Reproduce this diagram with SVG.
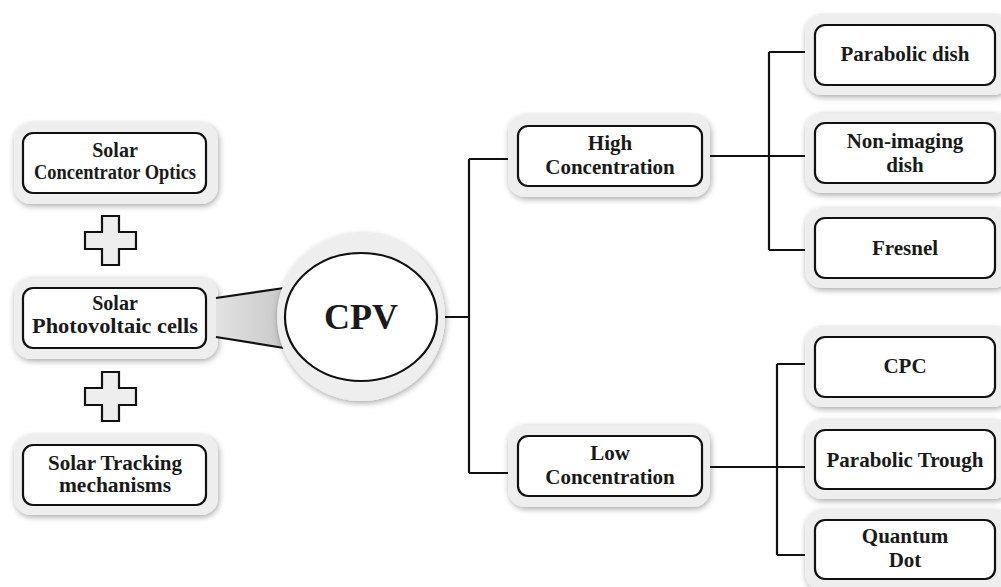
<svg xmlns="http://www.w3.org/2000/svg" width="1001" height="587" viewBox="0 0 1001 587">
<defs>
<filter id="sh" x="-20%" y="-20%" width="140%" height="140%">
<feGaussianBlur in="SourceAlpha" stdDeviation="3"/>
<feOffset dx="1" dy="2" result="b"/>
<feComponentTransfer><feFuncA type="linear" slope="0.35"/></feComponentTransfer>
<feMerge><feMergeNode/><feMergeNode in="SourceGraphic"/></feMerge>
</filter>
<linearGradient id="fg" x1="0" y1="0" x2="1" y2="0">
<stop offset="0" stop-color="#e2e2e2"/><stop offset="1" stop-color="#c9c9c9"/>
</linearGradient>
</defs>
<style>
.outer{fill:#eeeeee;filter:url(#sh)}
.inner{fill:#ffffff;stroke:#111;stroke-width:2.2}
.t{font-family:"Liberation Serif","Times New Roman",serif;font-weight:bold;font-size:21px;fill:#1a1a1a;text-anchor:middle}
.tl{font-size:20px}
.c{fill:none;stroke:#111;stroke-width:2.2}
.plus{fill:#eeeeee;stroke:#111;stroke-width:2.2}
</style>
<rect width="1001" height="587" fill="#ffffff"/>

<g id="connectors">
<path class="c" d="M445,317 H469 M469,159 V473 M469,159 H510 M469,473 H510"/>
<path class="c" d="M708,156 H807 M769,52 V250 M769,52 H807 M769,250 H807"/>
<path class="c" d="M708,467 H807 M777,364 V555 M777,364 H807 M777,555 H807"/>
</g>

<g id="node-optics">
<rect class="outer" x="14" y="123" width="204" height="81" rx="17"/>
<rect class="inner" x="23" y="133" width="183" height="60" rx="10"/>
<text class="t tl" x="115" y="157">Solar</text>
<text class="t tl" x="115" y="179" textLength="162" lengthAdjust="spacingAndGlyphs">Concentrator Optics</text>
</g>
<g id="plus1"><polygon class="plus" points="102,216 119,216 119,232 136,232 136,249 119,249 119,265 102,265 102,249 85,249 85,232 102,232"/></g>
<g id="node-pv">
<rect class="outer" x="14" y="278" width="204" height="81" rx="17"/>
<rect class="inner" x="23" y="288" width="183" height="60" rx="10"/>
<text class="t tl" x="115" y="310">Solar</text>
<text class="t tl" x="115" y="333" textLength="166" lengthAdjust="spacingAndGlyphs">Photovoltaic cells</text>
</g>
<g id="plus2"><polygon class="plus" points="102,372 119,372 119,388 136,388 136,405 119,405 119,421 102,421 102,405 85,405 85,388 102,388"/></g>
<g id="node-tracking">
<rect class="outer" x="14" y="435" width="204" height="80" rx="17"/>
<rect class="inner" x="23" y="445" width="183" height="60" rx="10"/>
<text class="t tl" x="115" y="470" textLength="134" lengthAdjust="spacingAndGlyphs">Solar Tracking</text>
<text class="t tl" x="115" y="492" textLength="112" lengthAdjust="spacingAndGlyphs">mechanisms</text>
</g>

<g id="funnel">
<polygon points="216,298 284,288 284,348 216,337" fill="url(#fg)"/>
<path class="c" d="M216,298 L284,288 M216,337 L284,348"/>
</g>

<g id="node-cpv">
<circle class="outer" cx="361" cy="317" r="84"/>
<ellipse class="inner" cx="361" cy="317" rx="76" ry="64"/>
<text class="t" x="361" y="329" style="font-size:36px">CPV</text>
</g>

<g id="node-high">
<rect class="outer" x="508" y="115" width="202" height="82" rx="17"/>
<rect class="inner" x="518" y="126" width="184" height="60" rx="10"/>
<text class="t" x="610" y="150">High</text>
<text class="t" x="610" y="174">Concentration</text>
</g>
<g id="node-low">
<rect class="outer" x="508" y="425" width="202" height="82" rx="17"/>
<rect class="inner" x="518" y="436" width="184" height="60" rx="10"/>
<text class="t" x="610" y="460">Low</text>
<text class="t" x="610" y="484">Concentration</text>
</g>

<g id="node-parabolic-dish">
<rect class="outer" x="805" y="15" width="205" height="80" rx="17"/>
<rect class="inner" x="815" y="25" width="180" height="60" rx="10"/>
<text class="t" x="905" y="61">Parabolic dish</text>
</g>
<g id="node-non-imaging">
<rect class="outer" x="805" y="113" width="205" height="80" rx="17"/>
<rect class="inner" x="815" y="123" width="180" height="60" rx="10"/>
<text class="t" x="905" y="148">Non-imaging</text>
<text class="t" x="905" y="172">dish</text>
</g>
<g id="node-fresnel">
<rect class="outer" x="805" y="208" width="205" height="80" rx="17"/>
<rect class="inner" x="815" y="218" width="180" height="60" rx="10"/>
<text class="t" x="905" y="255">Fresnel</text>
</g>
<g id="node-cpc">
<rect class="outer" x="805" y="327" width="205" height="80" rx="17"/>
<rect class="inner" x="815" y="337" width="180" height="60" rx="10"/>
<text class="t" x="905" y="373">CPC</text>
</g>
<g id="node-trough">
<rect class="outer" x="805" y="420" width="205" height="79" rx="17"/>
<rect class="inner" x="815" y="430" width="180" height="59" rx="10"/>
<text class="t" x="905" y="467">Parabolic Trough</text>
</g>
<g id="node-quantum">
<rect class="outer" x="805" y="510" width="205" height="80" rx="17"/>
<rect class="inner" x="815" y="520" width="180" height="59" rx="10"/>
<text class="t" x="905" y="543">Quantum</text>
<text class="t" x="905" y="567">Dot</text>
</g>
</svg>
